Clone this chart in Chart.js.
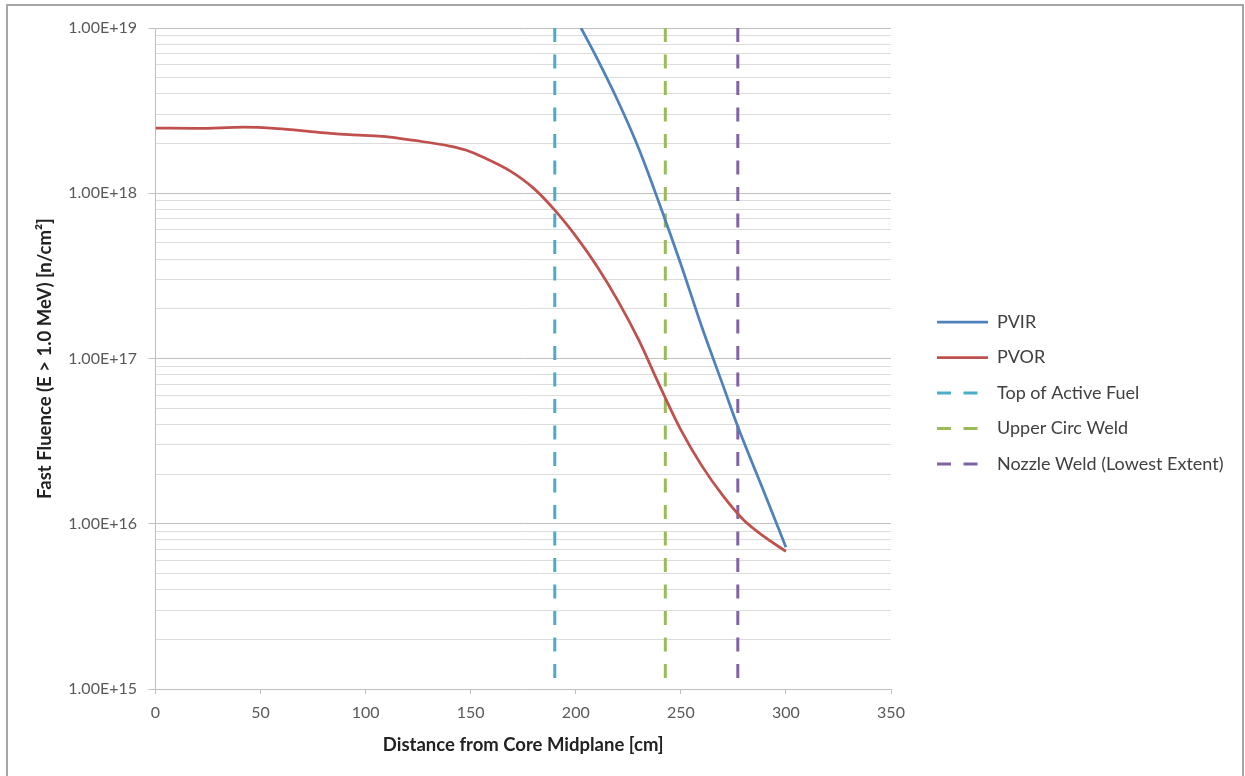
<!DOCTYPE html>
<html>
<head>
<meta charset="utf-8">
<script src="https://cdn.jsdelivr.net/npm/chart.js@4"></script>
<style>
  html, body { margin: 0; padding: 0; background: #fff; }
  #wrap { position: relative; width: 1245px; height: 776px; }
  #frame { position: absolute; left: 6px; top: 4px; width: 1234px; height: 790px; border: 2px solid #a6a6a6; pointer-events: none; }
</style>
</head>
<body>
<div id="wrap">
  <canvas id="chart" width="1245" height="776"></canvas>
  <div id="frame"></div>
</div>
<script>
// PVOR (outer radius) - distance [cm] / fluence [n/cm2]
const pvorX = [0, 20, 42, 58, 77, 92.5, 108, 124, 140, 148, 156, 168.5, 180, 190, 200, 210, 220, 230, 240, 250, 260, 270, 280, 290, 300];
const pvorY = [2.48e18, 2.47e18, 2.51e18, 2.46e18, 2.34e18, 2.26e18, 2.21e18, 2.08e18, 1.93e18, 1.82e18, 1.65e18, 1.37e18, 1.07e18, 7.9e17, 5.5e17, 3.63e17, 2.24e17, 1.29e17, 6.8e16, 3.7e16, 2.24e16, 1.48e16, 1.05e16, 8.3e15, 6.8e15];

// PVIR (inner radius)
const pvirX = [202.5, 210, 220, 230, 240, 250, 260, 270, 277, 290, 300];
const pvirY = [1.0e19, 6.6e18, 3.63e18, 1.86e18, 8.5e17, 3.72e17, 1.55e17, 6.9e16, 3.9e16, 1.51e16, 7.2e15];

// vertical reference lines
const markerNames = ['Top of Active Fuel', 'Upper Circ Weld', 'Nozzle Weld (Lowest Extent)'];
const markerX = [190, 242.6, 277.1];
const markerColors = ['#4bacc6', '#9bbb59', '#8064a2'];

// axes
const yMin = 1e15, yMax = 1e19;
const yDecades = [1e15, 1e16, 1e17, 1e18, 1e19];
const yMantissas = [1, 2, 3, 4, 5, 6, 7, 8, 9];
const xTickStep = 50;

const yTickValues = [];
yDecades.forEach(d => {
    if (d === yMax) { yTickValues.push(d); return; }
    yMantissas.forEach(m => yTickValues.push(m * d));
});

const toPoints = (xs, ys) => xs.map((x, i) => ({ x, y: ys[i] }));

Chart.defaults.font.family = 'Lato, "Open Sans", sans-serif';

const datasets = [
    { label: 'PVIR', data: toPoints(pvirX, pvirY), borderColor: '#4f81bd', backgroundColor: '#4f81bd',
      borderWidth: 2.75, pointRadius: 0, cubicInterpolationMode: 'monotone', fill: false },
    { label: 'PVOR', data: toPoints(pvorX, pvorY), borderColor: '#c0504d', backgroundColor: '#c0504d',
      borderWidth: 2.75, pointRadius: 0, cubicInterpolationMode: 'monotone', fill: false }
];
markerNames.forEach((name, i) => {
    datasets.push({
        label: name,
        data: [{ x: markerX[i], y: yMin }, { x: markerX[i], y: yMax }],
        borderColor: markerColors[i], backgroundColor: markerColors[i],
        borderWidth: 3, borderDash: [14, 12.5], borderDashOffset: 15.5,
        pointRadius: 0, fill: false
    });
});

// push the legend a bit away from the plot (leaves the white gap seen in the original)
const legendGap = {
    id: 'legendGap',
    afterLayout(chart) {
        const lg = chart.legend;
        lg.left += 28.5;
        lg.right = chart.width;
        lg.width = lg.right - lg.left;
    }
};

new Chart(document.getElementById('chart'), {
    type: 'line',
    data: { datasets },
    plugins: [legendGap],
    options: {
        responsive: false,
        animation: false,
        layout: { padding: { top: 28, right: 64, bottom: 18, left: 0 } },
        plugins: {
            legend: {
                position: 'right',
                align: 'center',
                maxWidth: 290,
                labels: {
                    usePointStyle: true, pointStyle: 'line', pointStyleWidth: 51,
                    padding: 17.5, color: '#404040', font: { size: 18 },
                    // point style legend takes the point's style, so copy the line style over
                    filter: (item, data) => {
                        const ds = data.datasets[item.datasetIndex];
                        item.lineDash = ds.borderDash || [];
                        item.lineDashOffset = 0;
                        item.lineWidth = ds.borderWidth;
                        item.strokeStyle = ds.borderColor;
                        return true;
                    }
                }
            },
            tooltip: { enabled: false }
        },
        scales: {
            x: {
                type: 'linear', min: 0, max: 350,
                ticks: { stepSize: xTickStep, color: '#595959', font: { size: 16 }, padding: 9.5 },
                grid: { drawOnChartArea: false, tickLength: 5, color: '#bfbfbf' },
                border: { color: '#bfbfbf' },
                title: { display: true, text: 'Distance from Core Midplane [cm]', color: '#222',
                         font: { size: 18.5, weight: 'bold' }, padding: { top: 0, bottom: 1.9 } },
                afterFit: s => { s.height = 69; }
            },
            y: {
                type: 'logarithmic', min: yMin, max: yMax,
                afterBuildTicks: s => { s.ticks = yTickValues.map(v => ({ value: v })); },
                ticks: {
                    autoSkip: false, color: '#595959', font: { size: 16 }, padding: 11.5,
                    callback: v => yDecades.includes(v) ? v.toExponential(2).toUpperCase() : ''
                },
                grid: {
                    color: c => yDecades.includes(c.tick.value) ? '#bfbfbf' : '#dcdcdc',
                    tickColor: c => yDecades.includes(c.tick.value) ? '#bfbfbf' : 'rgba(0,0,0,0)',
                    tickLength: 7
                },
                border: { color: '#bfbfbf' },
                title: { display: true, text: 'Fast Fluence (E > 1.0 MeV) [n/cm²]', color: '#222',
                         font: { size: 18.5, weight: 'bold' }, padding: { top: 33.9, bottom: 0 } },
                afterFit: s => { s.width = 155.5; s.paddingTop = 0; s.paddingBottom = 0; }
            }
        }
    }
});
</script>
</body>
</html>
